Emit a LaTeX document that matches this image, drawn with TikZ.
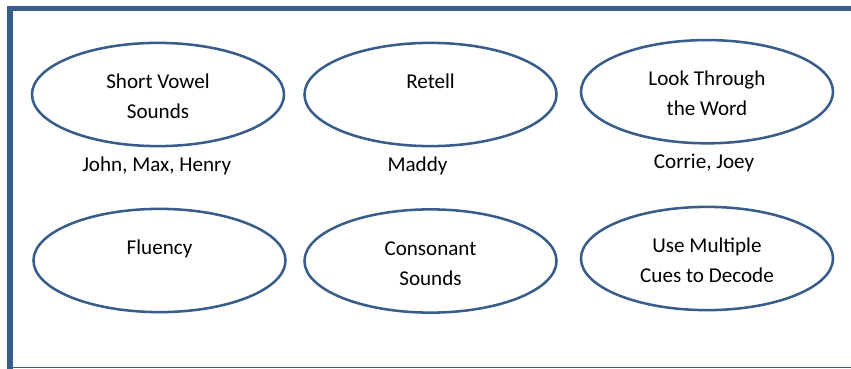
\documentclass[tikz,border=0pt]{standalone}
\usepackage{fontspec}
\setmainfont{Carlito}
\usetikzlibrary{shapes.geometric}
\definecolor{frameblue}{HTML}{385D8A}

\begin{document}
\begin{tikzpicture}[
      x=0.025cm, y=-0.025cm, % one unit = one pixel of the page
      skill/.style={draw=frameblue, ellipse, line width=1.8pt, minimum width=6.3cm, minimum height=2.58cm},
      skilltext/.style={anchor=base, align=center, inner sep=0pt, font=\fontsize{15}{21.3}\selectfont},
      kids/.style={anchor=base, inner sep=0pt, font=\fontsize{15}{18}\selectfont}
    ]
    \useasboundingbox (0,0) rectangle (851,369);
    % Frame
    \draw[frameblue, line width=3.6pt] (10,369) -- (10,8.5) -- (860,8.5);
    \draw[frameblue, line width=1.1pt] (10,367.5) -- (860,367.5);
    % Top row
    \node [skill] (vowel) at (158,94.5) {};
    \node [skill] (retell) at (430.5,94.5) {};
    \node [skill] (look) at (707,91.7) {};
    \node [skilltext] (vowelt) at ([yshift=-17.1pt]vowel.center) {Short Vowel\\Sounds};
    \node [skilltext] (retellt) at ([yshift=4.3pt]retell.center) {Retell};
    \node [skilltext] (lookt) at ([yshift=-17.1pt]look.center) {Look Through\\the Word};
    % Children under the top row
    \node [kids] (vowelkids) at (156.7,171.5) {John, Max, Henry};
    \node [kids] (retellkids) at (417.5,171.7) {Maddy};
    \node [kids] (lookkids) at (704,168) {Corrie, Joey};
    % Bottom row
    \node [skill] (fluency) at (159.5,260.5) {};
    \node [skill] (consonant) at (430.5,261) {};
    \node [skill] (cues) at (707,258.5) {};
    \node [skilltext] (fluencyt) at ([yshift=4.3pt]fluency.center) {Fluency};
    \node [skilltext] (consonantt) at ([yshift=-17.1pt]consonant.center) {Consonant\\Sounds};
    \node [skilltext] (cuest) at ([yshift=-17.1pt]cues.center) {Use Multiple\\Cues to Decode};
\end{tikzpicture}
\end{document}
